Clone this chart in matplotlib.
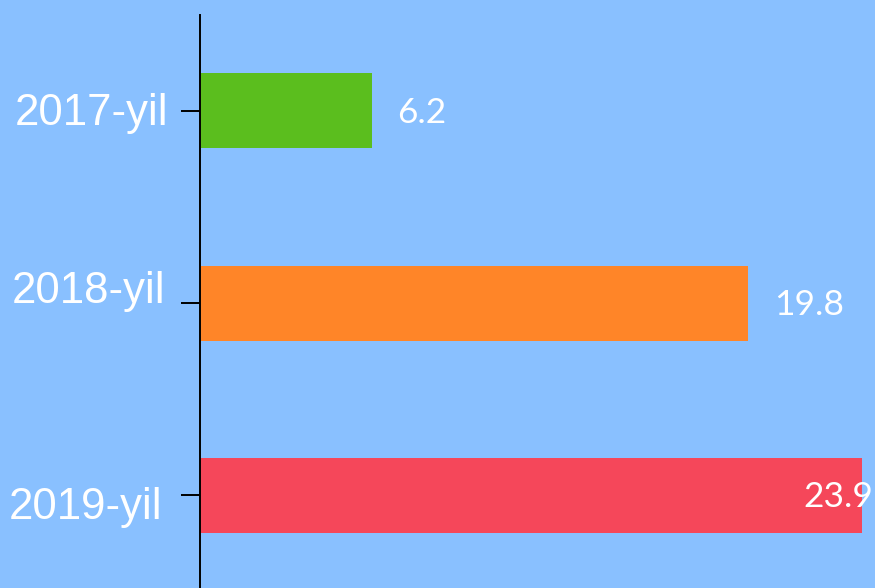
import matplotlib
matplotlib.use("Agg")
import matplotlib.pyplot as plt
import matplotlib.transforms as mtransforms

years = ["2017-yil", "2018-yil", "2019-yil"]
values = [6.2, 19.8, 23.9]
colors = ["#5bbe1e", "#ff8528", "#f5475a"]
bg = "#89c0ff"

fig = plt.figure(figsize=(8.75, 5.88), dpi=100, facecolor=bg)
ax = fig.add_axes([200/875, -0.006, 675/875, 0.981])
ax.set_facecolor(bg)

pos = list(range(len(years)))
ax.barh(pos, values, height=0.39, color=colors)
xmax = 675/27.7
ax.set_xlim(0, xmax)
ax.set_ylim(2.5, -0.5)

ax.set_yticks(pos)
ax.set_yticklabels(years, fontsize=31.5, color="white", family="Liberation Sans")
ax.tick_params(axis="y", length=13.7, width=1.4, color="black", pad=9.4)
ax.set_xticks([])
for s in ["top", "right", "bottom"]:
    ax.spines[s].set_visible(False)
ax.spines["left"].set_linewidth(1.4)
ax.spines["left"].set_color("black")

# small shifts of the year labels, as in the picture (pixels)
shifts = [(0, 2), (-3, 16), (-6, -8)]
for lab, (dx, dy) in zip(ax.get_yticklabels(), shifts):
    off = mtransforms.ScaledTranslation(dx/100, dy/100, fig.dpi_scale_trans)
    lab.set_transform(lab.get_transform() + off)

for p, v in zip(pos, values):
    if v > xmax - 3:
        ax.annotate(str(v), (xmax, p), xytext=(-1.5, -1.5), textcoords="offset points",
                    ha="right", va="center", color="white", fontsize=25.5,
                    family="Lato", fontweight="normal")
    else:
        ax.annotate(str(v), (v, p), xytext=(18.5, -1.5), textcoords="offset points",
                    ha="left", va="center", color="white", fontsize=25.5,
                    family="Lato", fontweight="normal")

fig.savefig("out.png", dpi=100, facecolor=bg)
